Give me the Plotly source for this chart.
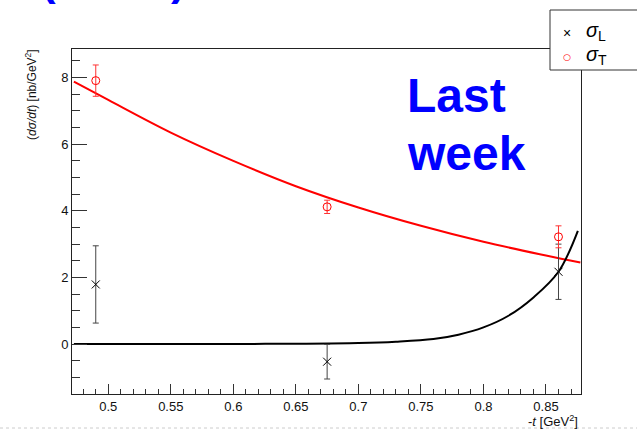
import plotly.graph_objects as go

# Measured cross sections vs -t
t_points = [0.49, 0.675, 0.86]
sigma_L = [1.79, -0.53, 2.17]
sigma_L_err = [1.16, 0.52, 0.83]
sigma_T = [7.91, 4.12, 3.22]
sigma_T_err = [0.47, 0.20, 0.33]

# Fitted curves, sampled along -t
fit_T_t = [0.4725, 0.50, 0.55, 0.60, 0.65, 0.70, 0.75, 0.80, 0.85, 0.8775]
fit_T_y = [7.88, 7.33, 6.35, 5.50, 4.74, 4.10, 3.55, 3.07, 2.66, 2.45]
fit_L_t = [0.4725, 0.55, 0.60, 0.65, 0.70, 0.73, 0.76, 0.78, 0.80, 0.82, 0.84, 0.86, 0.8755]
fit_L_y = [0.0, 0.0, 0.003, 0.01, 0.03, 0.07, 0.15, 0.28, 0.50, 0.85, 1.40, 2.17, 3.40]

W, H = 637, 438
L, R, T, B = 72, 56, 49, 44
PW, PH = W - L - R, H - T - B


def px(xp):
    return (xp - L) / PW


def py(yp):
    return (H - B - yp) / PH


FONT = "Liberation Sans, Arial, sans-serif"

fig = go.Figure()

fig.add_trace(go.Scatter(
    x=fit_T_t, y=fit_T_y, mode="lines", line=dict(color="#ff0000", width=2, shape="spline"),
    showlegend=False, hoverinfo="skip"))
fig.add_trace(go.Scatter(
    x=fit_L_t, y=fit_L_y, mode="lines", line=dict(color="#000000", width=2, shape="spline"),
    showlegend=False, hoverinfo="skip"))

fig.add_trace(go.Scatter(
    x=t_points, y=sigma_L, mode="markers", name="σL",
    marker=dict(symbol="x-thin-open", size=8, color="#000000", line=dict(width=1, color="#000000")),
    error_y=dict(type="data", array=sigma_L_err, color="#444444", thickness=1, width=3),
    showlegend=False))
fig.add_trace(go.Scatter(
    x=t_points, y=sigma_T, mode="markers", name="σT",
    marker=dict(symbol="circle-open", size=8, color="#ff0000", line=dict(width=1, color="#ff0000")),
    error_y=dict(type="data", array=sigma_T_err, color="#ff3333", thickness=1, width=3),
    showlegend=False))

axis_common = dict(
    showline=True, linecolor="#222222", linewidth=1, mirror=True,
    ticks="inside", tickcolor="#333333", tickwidth=1,
    showgrid=False, zeroline=False,
    tickfont=dict(family=FONT, size=13, color="#111111"),
)

fig.update_xaxes(range=[0.471, 0.878], dtick=0.05, tick0=0.5, ticklen=10,
                 minor=dict(dtick=0.01, ticklen=5, ticks="inside", tickcolor="#333333", showgrid=False),
                 **axis_common)
fig.update_yaxes(range=[-1.5, 8.86], dtick=2, tick0=0, ticklen=15,
                 minor=dict(dtick=0.5, ticklen=8, ticks="inside", tickcolor="#333333", showgrid=False),
                 **axis_common)

annotations = [
    # axis titles
    dict(x=px(580), y=py(421), xref="paper", yref="paper", xanchor="right", yanchor="middle",
         text="-<i>t</i> [GeV<sup>2</sup>]", showarrow=False,
         font=dict(family=FONT, size=13, color="#111111")),
    dict(x=px(31), y=py(95), xref="paper", yref="paper", xanchor="center", yanchor="middle",
         text="(<i>dσ/dt</i>) [nb/GeV<sup>2</sup>]", textangle=-90, showarrow=False,
         font=dict(family=FONT, size=12, color="#111111")),
    # "Last week" label
    dict(x=px(405), y=py(95.7), xref="paper", yref="paper", xanchor="left", yanchor="middle",
         text="<b>Last</b>", showarrow=False, font=dict(family=FONT, size=48, color="#0000ff")),
    dict(x=px(405), y=py(153.4), xref="paper", yref="paper", xanchor="left", yanchor="middle",
         text="<b>week</b>", showarrow=False, font=dict(family=FONT, size=48, color="#0000ff")),
    # slide title fragments along the top edge
    dict(x=px(48), y=py(6), xref="paper", yref="paper", xanchor="center", yanchor="bottom",
         text="<b>(</b>", showarrow=False, font=dict(family=FONT, size=44, color="#0000ff")),
    dict(x=px(178), y=py(6), xref="paper", yref="paper", xanchor="center", yanchor="bottom",
         text="<b>)</b>", showarrow=False, font=dict(family=FONT, size=44, color="#0000ff")),
    # legend entries
    dict(x=px(567), y=py(33), xref="paper", yref="paper", xanchor="center", yanchor="middle",
         text="×", showarrow=False, font=dict(family=FONT, size=14, color="#000000")),
    dict(x=px(567), y=py(57), xref="paper", yref="paper", xanchor="center", yanchor="middle",
         text="○", showarrow=False, font=dict(family="DejaVu Sans", size=9, color="#ff0000")),
    dict(x=px(584), y=py(32), xref="paper", yref="paper", xanchor="left", yanchor="middle",
         text="<i>σ</i><sub>L</sub>", showarrow=False, font=dict(family=FONT, size=20, color="#000000")),
    dict(x=px(584), y=py(56), xref="paper", yref="paper", xanchor="left", yanchor="middle",
         text="<i>σ</i><sub>T</sub>", showarrow=False, font=dict(family=FONT, size=20, color="#000000")),
]

shapes = [
    dict(type="rect", xref="paper", yref="paper", x0=px(550), x1=px(645), y0=py(70), y1=py(10),
         fillcolor="white", line=dict(color="#333333", width=1), layer="above"),
    dict(type="line", xref="paper", yref="paper", x0=px(0), x1=px(W), y0=py(428), y1=py(428),
         line=dict(color="#cccccc", width=1, dash="dot"), layer="above"),
]

fig.update_layout(
    width=W, height=H,
    margin=dict(l=L, r=R, t=T, b=B),
    paper_bgcolor="white", plot_bgcolor="white",
    showlegend=False,
    annotations=annotations, shapes=shapes,
)

fig.write_html("out.html")
